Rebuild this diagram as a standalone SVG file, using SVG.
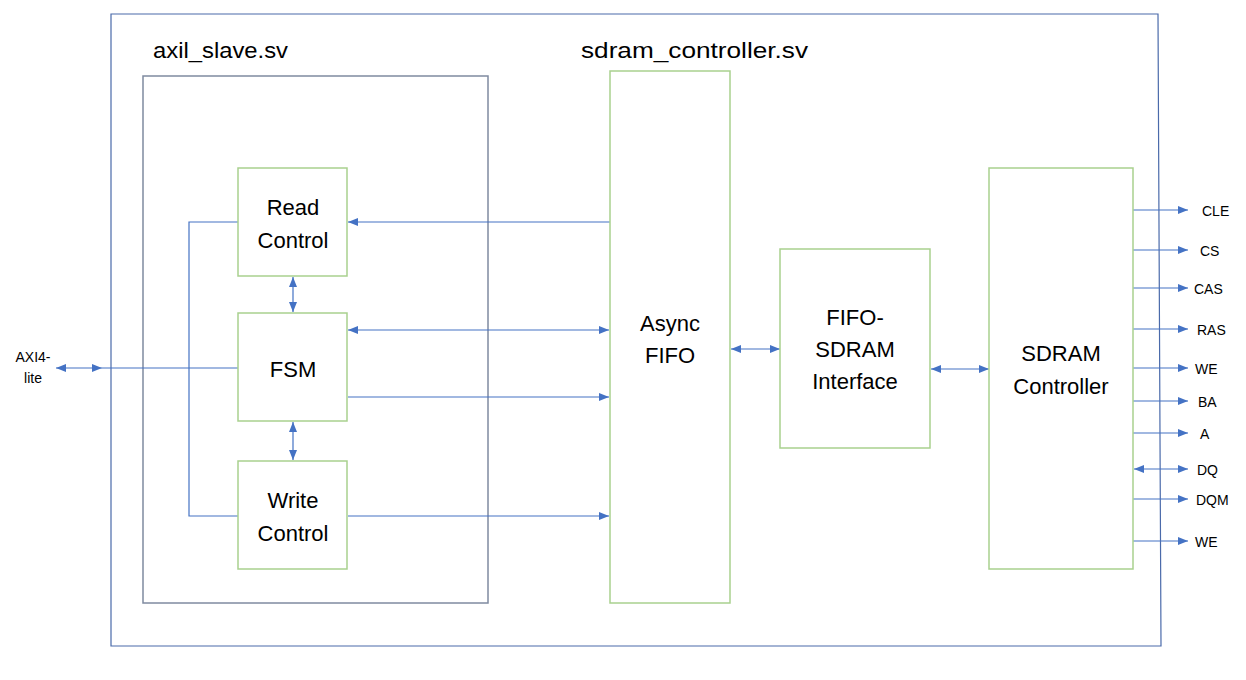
<svg xmlns="http://www.w3.org/2000/svg" width="1246" height="680" viewBox="0 0 1246 680">
<style>
.blk{fill:#fff;stroke:#a9d18e;stroke-width:1.5}
.t{font-family:"Liberation Sans",Arial,sans-serif;font-size:22px;fill:#000;text-anchor:middle}
.h{font-family:"Liberation Sans",Arial,sans-serif;font-size:22px;fill:#000}
.s{font-family:"Liberation Sans",Arial,sans-serif;font-size:14px;fill:#000}
.c{fill:none;stroke:#4472c4;stroke-width:1.2}
</style>
<defs>
<marker id="ah" viewBox="0 0 10 8" refX="10" refY="4" markerWidth="10" markerHeight="8" markerUnits="userSpaceOnUse" orient="auto-start-reverse">
<path d="M0,0 L10,4 L0,8 Z" fill="#4472c4"/>
</marker>
</defs>
<rect width="1246" height="680" fill="#fff"/>
<g id="top">
<path d="M111,14 L1158,14 L1161,646 L111,646 Z" fill="none" stroke="#4a6aaa" stroke-width="1.2"/>
<text class="h" x="581" y="58" textLength="227" lengthAdjust="spacingAndGlyphs">sdram_controller.sv</text>
</g>
<g id="axil_slave">
<rect x="143" y="76" width="345" height="527" fill="none" stroke="#7f8aa0" stroke-width="1.5"/>
<text class="h" x="153" y="58" textLength="135" lengthAdjust="spacingAndGlyphs">axil_slave.sv</text>
</g>
<g id="connectors">
<line class="c" x1="56" y1="368" x2="102" y2="368" marker-start="url(#ah)" marker-end="url(#ah)"/>
<line class="c" x1="102" y1="368" x2="238" y2="368"/>
<polyline class="c" points="238,222 189,222 189,516 238,516"/>
<line class="c" x1="610" y1="222" x2="348" y2="222" marker-end="url(#ah)"/>
<line class="c" x1="348" y1="330" x2="609" y2="330" marker-start="url(#ah)" marker-end="url(#ah)"/>
<line class="c" x1="348" y1="397" x2="609" y2="397" marker-end="url(#ah)"/>
<line class="c" x1="348" y1="516" x2="609" y2="516" marker-end="url(#ah)"/>
<line class="c" x1="293" y1="277" x2="293" y2="312" marker-start="url(#ah)" marker-end="url(#ah)"/>
<line class="c" x1="293" y1="422" x2="293" y2="460" marker-start="url(#ah)" marker-end="url(#ah)"/>
<line class="c" x1="731" y1="349" x2="780" y2="349" marker-start="url(#ah)" marker-end="url(#ah)"/>
<line class="c" x1="931" y1="369" x2="989" y2="369" marker-start="url(#ah)" marker-end="url(#ah)"/>
<line class="c" x1="1133" y1="210" x2="1188" y2="210" marker-end="url(#ah)"/>
<line class="c" x1="1133" y1="250" x2="1188" y2="250" marker-end="url(#ah)"/>
<line class="c" x1="1133" y1="288" x2="1188" y2="288" marker-end="url(#ah)"/>
<line class="c" x1="1133" y1="329" x2="1188" y2="329" marker-end="url(#ah)"/>
<line class="c" x1="1133" y1="368" x2="1188" y2="368" marker-end="url(#ah)"/>
<line class="c" x1="1133" y1="401" x2="1188" y2="401" marker-end="url(#ah)"/>
<line class="c" x1="1133" y1="433" x2="1188" y2="433" marker-end="url(#ah)"/>
<line class="c" x1="1134" y1="469" x2="1188" y2="469" marker-start="url(#ah)" marker-end="url(#ah)"/>
<line class="c" x1="1133" y1="499" x2="1188" y2="499" marker-end="url(#ah)"/>
<line class="c" x1="1132" y1="541" x2="1188" y2="541" marker-end="url(#ah)"/>
</g>
<g id="axi4lite">
<text class="s" x="33" y="362" text-anchor="middle">AXI4-</text>
<text class="s" x="33" y="383" text-anchor="middle">lite</text>
</g>
<g id="read_control">
<rect class="blk" x="238" y="168" width="109" height="108"/>
<text class="t" x="293" y="215">Read</text>
<text class="t" x="293" y="248">Control</text>
</g>
<g id="fsm">
<rect class="blk" x="238" y="313" width="109" height="108"/>
<text class="t" x="293" y="377">FSM</text>
</g>
<g id="write_control">
<rect class="blk" x="238" y="461" width="109" height="108"/>
<text class="t" x="293" y="508">Write</text>
<text class="t" x="293" y="541">Control</text>
</g>
<g id="async_fifo">
<rect class="blk" x="610" y="71" width="120" height="532"/>
<text class="t" x="670" y="331">Async</text>
<text class="t" x="670" y="363">FIFO</text>
</g>
<g id="fifo_sdram_interface">
<rect class="blk" x="780" y="249" width="150" height="199"/>
<text class="t" x="855" y="325">FIFO-</text>
<text class="t" x="855" y="357">SDRAM</text>
<text class="t" x="855" y="389">Interface</text>
</g>
<g id="sdram_controller">
<rect class="blk" x="989" y="168" width="144" height="401"/>
<text class="t" x="1061" y="361">SDRAM</text>
<text class="t" x="1061" y="394">Controller</text>
</g>
<g id="signals">
<text class="s" x="1202" y="216">CLE</text>
<text class="s" x="1200" y="256">CS</text>
<text class="s" x="1194" y="294">CAS</text>
<text class="s" x="1197" y="335">RAS</text>
<text class="s" x="1195" y="374">WE</text>
<text class="s" x="1198" y="407">BA</text>
<text class="s" x="1200" y="439">A</text>
<text class="s" x="1197" y="475">DQ</text>
<text class="s" x="1196" y="505">DQM</text>
<text class="s" x="1195" y="547">WE</text>
</g>
</svg>
